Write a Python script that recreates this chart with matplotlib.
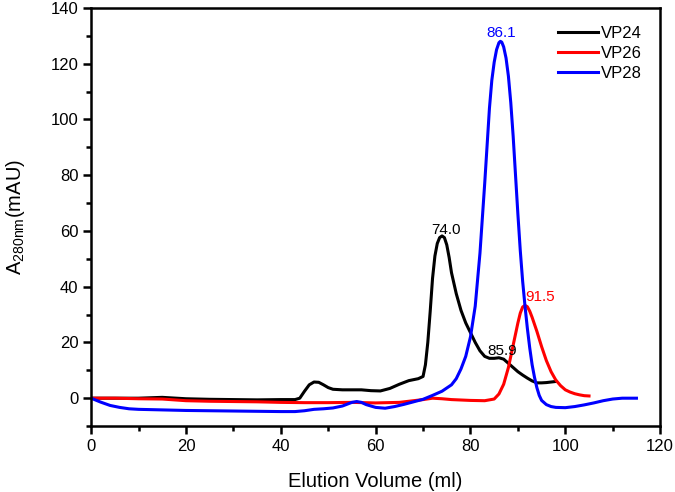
import matplotlib
matplotlib.use("Agg")
from matplotlib import pyplot as plt
from matplotlib.ticker import MultipleLocator

plt.rcParams['font.family'] = ['Liberation Sans', 'DejaVu Sans']

# VP24 trace (ml, mAU)
vp24_x = [0, 5, 10, 15, 20, 25, 30, 35, 40, 43, 44, 45, 46, 47, 48, 49, 50, 51, 53, 55,
          57, 59, 61, 63, 65, 67, 69, 70, 70.5, 71, 71.5, 72, 72.5, 73, 73.5, 74, 74.5,
          75, 75.5, 76, 77, 78, 79, 80, 81, 82, 83, 84, 85, 86, 87, 88, 89, 90, 91, 92,
          93, 94, 95, 96, 97, 98]
vp24_y = [0, 0, 0, 0.3, -0.2, -0.4, -0.5, -0.6, -0.5, -0.5, 0, 2.5, 4.8, 5.8, 5.7, 4.8,
          3.8, 3.2, 3.0, 3.0, 3.0, 2.7, 2.6, 3.5, 5.0, 6.3, 7.0, 7.8, 12, 20, 31, 43, 51,
          55.5, 57.6, 58.2, 57.6, 55, 50.5, 45, 37.5, 31.5, 27, 23.5, 20, 17, 15, 14.3,
          14.3, 14.5, 14, 12.5, 11, 9.5, 8.3, 7.2, 6.2, 5.5, 5.5, 5.6, 5.8, 6.0]

# VP26 trace
vp26_x = [0, 5, 10, 15, 20, 25, 30, 35, 40, 45, 50, 55, 60, 65, 70, 72, 74, 76, 80, 83,
          85, 86, 87, 88, 89, 90, 90.5, 91, 91.5, 92, 92.5, 93, 94, 95, 96, 97, 98, 99,
          100, 101, 102, 103, 104, 105]
vp26_y = [0, 0, -0.2, -0.3, -0.9, -1.1, -1.2, -1.3, -1.5, -1.6, -1.6, -1.5, -1.7, -1.5,
          -0.5, 0, -0.2, -0.5, -0.8, -0.9, -0.3, 1.5, 5, 11, 19, 27, 30.5, 32.7, 33.3,
          32.8, 31.2, 29, 24, 18.5, 13.5, 9.5, 6.5, 4.5, 3, 2.2, 1.6, 1.2, 0.9, 0.8]

# VP28 trace
vp28_x = [0, 2, 4, 6, 8, 10, 15, 20, 25, 30, 35, 40, 43, 45, 47, 49, 51, 53, 55, 56, 57,
          58, 60, 62, 64, 66, 68, 70, 72, 74, 76, 77, 78, 79, 80, 81, 82, 83, 84, 84.5,
          85, 85.5, 86, 86.3, 86.6, 87, 87.5, 88, 88.5, 89, 89.5, 90, 90.5, 91, 91.5,
          92, 92.5, 93, 93.5, 94, 94.5, 95, 96, 97, 98, 100, 102, 104, 106, 108, 110,
          112, 115]
vp28_y = [0, -1.4, -2.6, -3.3, -3.8, -4.0, -4.2, -4.4, -4.5, -4.6, -4.7, -4.8, -4.8, -4.5,
          -4.0, -3.8, -3.5, -2.8, -1.5, -1.2, -1.5, -2.3, -3.3, -3.6, -3.0, -2.2, -1.3,
          -0.4, 1.0, 2.5, 4.8, 7, 10.5, 15, 22, 33, 52, 77, 104, 114, 120.5, 125, 127.5,
          128, 127.7, 126, 122, 115.5, 106, 94, 80, 66, 53, 42, 33, 25, 18, 12, 7.5, 3.8,
          1, -0.8, -2.3, -3.0, -3.3, -3.4, -3.0, -2.4, -1.7, -0.9, -0.3, 0, 0]

peak_labels = ['74.0', '85.9', '86.1', '91.5']
peak_x = [74.9, 86.7, 86.5, 94.6]
peak_y = [59.0, 15.4, 129.4, 35.0]
peak_colors = ['black', 'black', '#0000ff', '#ff0000']

fig, ax = plt.subplots(figsize=(6.75, 4.92), dpi=100)
fig.subplots_adjust(left=0.135, right=0.978, top=0.984, bottom=0.134)

ax.plot(vp24_x, vp24_y, color='black', lw=2.2, label='VP24')
ax.plot(vp26_x, vp26_y, color='#ff0000', lw=2.2, label='VP26')
ax.plot(vp28_x, vp28_y, color='#0000ff', lw=2.2, label='VP28')

for t, x, y, c in zip(peak_labels, peak_x, peak_y, peak_colors):
    ax.text(x, y, t, color=c, fontsize=11, ha='center', va='baseline')

ax.set_xlim(0, 120)
ax.set_ylim(-10, 140)
ax.xaxis.set_major_locator(MultipleLocator(20))
ax.xaxis.set_minor_locator(MultipleLocator(10))
ax.yaxis.set_major_locator(MultipleLocator(20))
ax.yaxis.set_minor_locator(MultipleLocator(10))
ax.set_yticks([0, 20, 40, 60, 80, 100, 120, 140])
ax.tick_params(which='major', direction='out', length=6, width=1.8, labelsize=12, pad=3)
ax.tick_params(which='minor', direction='out', length=3.5, width=1.8)
for s in ax.spines.values():
    s.set_linewidth(1.8)

ax.set_xlabel('Elution Volume (ml)', fontsize=14.5, labelpad=13)
ax.set_ylabel(r'A$_{\mathregular{280nm}}$(mAU)', fontsize=14.5, labelpad=17)
ax.legend(loc='upper right', frameon=False, fontsize=12, handlelength=2.4,
          handletextpad=0.2, labelspacing=0.3, borderaxespad=0.7)

fig.savefig('out.png', dpi=100)
